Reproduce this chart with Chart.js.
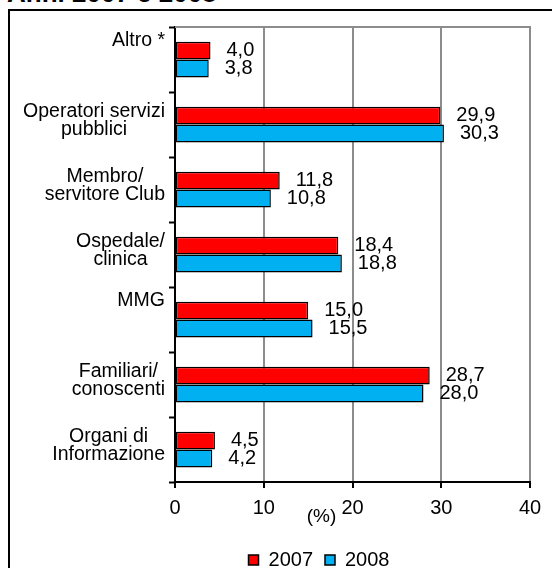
<!DOCTYPE html>
<html>
<head>
<meta charset="utf-8">
<script src="https://cdn.jsdelivr.net/npm/chart.js@4/dist/chart.umd.min.js"></script>
<style>
  html, body { margin: 0; padding: 0; background: #fff; overflow: hidden; }
  body { width: 552px; height: 568px; position: relative; }
  #title {
    position: absolute; left: 7px; top: -20px;
    font: bold 26px "Liberation Sans", Arial, sans-serif; line-height: 26px;
    white-space: nowrap;
  }
  #frame {
    position: absolute; left: 8px; top: 9px; width: 700px; height: 700px;
    border-left: 2px solid #000; border-top: 2px solid #000;
  }
  #wrap { position: absolute; left: 0; top: 0; width: 552px; height: 580px; }
</style>
</head>
<body>
<div id="title">Anni 2007 e 2008</div>
<div id="frame"></div>
<div id="wrap"><canvas id="chart"></canvas></div>
<script>
// Values (%)
const categories = [
    ['Altro *'],
    ['Operatori servizi', 'pubblici'],
    ['Membro/', 'servitore Club'],
    ['Ospedale/', 'clinica'],
    ['MMG'],
    ['Familiari/', 'conoscenti'],
    ['Organi di', 'Informazione']
];
const values2007 = [4.0, 29.9, 11.8, 18.4, 15.0, 28.7, 4.5];
const values2008 = [3.8, 30.3, 10.8, 18.8, 15.5, 28.0, 4.2];
const xTicks = [0, 10, 20, 30, 40];

const FONT = "'Liberation Sans', Arial, sans-serif";
Chart.defaults.font.family = FONT;
Chart.defaults.font.size = 20;
Chart.defaults.color = '#000';

function fmt(v) {
    return v.toFixed(1).replace('.', ',');
}

// Draws the value labels, the category labels (centred lines, Excel style),
// the grey top edge of the plot and the "(%)" caption.
const extras = {
    id: 'extras',
    beforeDatasetsDraw(chart) {
        const { ctx, chartArea: a } = chart;
        ctx.save();
        ctx.strokeStyle = '#8c8c8c';
        ctx.lineWidth = 2;
        ctx.beginPath();
        ctx.moveTo(a.left, a.top);
        ctx.lineTo(a.right + 1, a.top);
        ctx.stroke();
        ctx.restore();
    },
    afterDraw(chart) {
        const { ctx, chartArea: a, scales: { x, y } } = chart;
        ctx.save();
        ctx.fillStyle = '#000';
        ctx.textBaseline = 'middle';

        // value labels
        ctx.font = '20px ' + FONT;
        ctx.textAlign = 'left';
        chart.data.datasets.forEach((ds, i) => {
            chart.getDatasetMeta(i).data.forEach((bar, j) => {
                ctx.fillText(fmt(ds.data[j]), bar.x + 16, bar.y);
            });
        });

        // category labels
        const lh = 18;
        ctx.font = '19.5px ' + FONT;
        ctx.textAlign = 'center';
        chart.data.labels.forEach((label, i) => {
            const lines = [].concat(label);
            const w = Math.max(...lines.map(l => ctx.measureText(l).width));
            const cx = a.left - 10 - w / 2;
            const cy = y.getPixelForValue(i);
            const y0 = cy - 4 - (lines.length === 1 ? 15 : (lines.length - 1) * lh / 2);
            lines.forEach((l, k) => ctx.fillText(l, cx, y0 + k * lh));
        });

        // axis caption
        ctx.font = '19px ' + FONT;
        ctx.fillText('(%)', x.getPixelForValue(16.5), a.bottom + 35);
        ctx.restore();
    }
};

new Chart(document.getElementById('chart'), {
    type: 'bar',
    data: {
        labels: categories,
        datasets: [
            {
                label: '2007',
                data: values2007,
                backgroundColor: '#ff0000',
                borderColor: '#000',
                borderWidth: 1.5,
                borderSkipped: false
            },
            {
                label: '2008',
                data: values2008,
                backgroundColor: '#00b0f0',
                borderColor: '#000',
                borderWidth: 1.5,
                borderSkipped: false
            }
        ]
    },
    options: {
        indexAxis: 'y',
        responsive: true,
        maintainAspectRatio: false,
        animation: false,
        layout: { padding: { left: 108, right: 22, top: 27, bottom: 0 } },
        datasets: { bar: { categoryPercentage: 0.55, barPercentage: 1 } },
        scales: {
            x: {
                type: 'linear',
                min: xTicks[0],
                max: xTicks[xTicks.length - 1],
                afterBuildTicks: s => { s.ticks = xTicks.map(v => ({ value: v })); },
                ticks: { padding: 8, font: { size: 20 }, color: '#000' },
                grid: {
                    color: c => (c.tick && c.tick.value === 0 ? 'rgba(0,0,0,0)' : '#8c8c8c'),
                    lineWidth: 2,
                    tickColor: '#000',
                    tickLength: 6,
                    tickWidth: 2
                },
                border: { color: '#000', width: 2 },
                afterFit: s => { s.height = 56; }
            },
            y: {
                type: 'category',
                offset: true,
                ticks: { display: false },
                grid: {
                    offset: true,
                    drawOnChartArea: false,
                    tickColor: '#000',
                    tickLength: 6,
                    tickWidth: 2
                },
                border: { color: '#000', width: 2 },
                afterFit: s => { s.width = 67; }
            }
        },
        plugins: {
            legend: {
                position: 'bottom',
                labels: {
                    boxWidth: 10,
                    boxHeight: 10,
                    padding: 12,
                    font: { size: 20 },
                    color: '#000'
                }
            },
            tooltip: { enabled: false }
        }
    },
    plugins: [extras]
});
</script>
</body>
</html>
